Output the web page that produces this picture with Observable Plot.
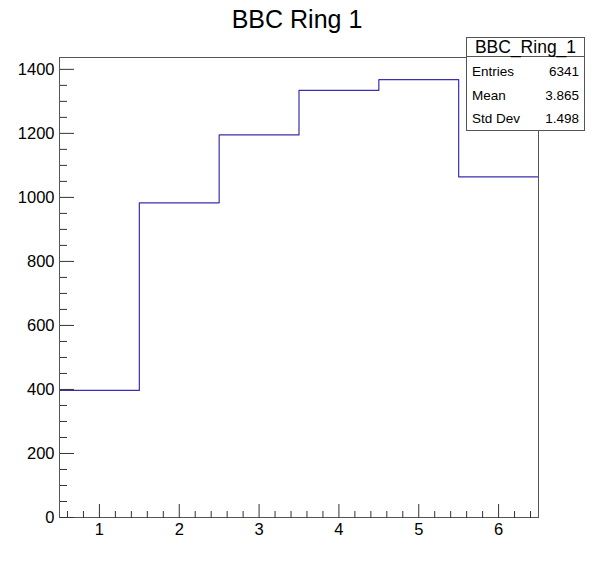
<!DOCTYPE html>
<html><head><meta charset="utf-8">
<script src="https://cdn.jsdelivr.net/npm/d3@7"></script>
<script src="https://cdn.jsdelivr.net/npm/@observablehq/plot@0.6"></script>
<style>
body{margin:0;background:#fff}
svg{font-family:"Liberation Sans",Arial,Helvetica,sans-serif}
</style>
</head><body><div id="chart"></div>
<script>
const chartTitle = "BBC Ring 1";
const statsName = "BBC_Ring_1";
const statsLabels = ["Entries", "Mean", "Std Dev"];
const statsValues = ["6341", "3.865", "1.498"];
const binCenters = [1, 2, 3, 4, 5, 6];
const binCounts = [397, 983, 1195, 1334, 1368, 1064];
const binWidth = 1;
const xDomain = [0.5, 6.5];
const yDomain = [0, 1437];
const xMajor = [1, 2, 3, 4, 5, 6];
const yMajor = [0, 200, 400, 600, 800, 1000, 1200, 1400];
const xMinor = d3.range(3, 33).map(i => i / 5).filter(v => Math.abs(v - Math.round(v)) > 1e-6);
const yMinor = d3.range(0, 29).map(i => i * 50).filter(v => v % 200 !== 0);

// step outline points: each bin's left edge with its count, plus final right edge
const steps = binCenters.map((c, i) => ({x: c - binWidth / 2, y: binCounts[i]}));
steps.push({x: binCenters[binCenters.length - 1] + binWidth / 2, y: binCounts[binCounts.length - 1]});

const W = 598, H = 575;
const plot = Plot.plot({
  width: W, height: H,
  marginLeft: 59, marginRight: 60, marginTop: 57, marginBottom: 58,
  x: {domain: xDomain},
  y: {domain: yDomain},
  style: {fontFamily: '"Liberation Sans",Arial,sans-serif', fontSize: "16.5px", color: "#000", background: "#fff", overflow: "visible"},
  marks: [
    Plot.line(steps, {x: "x", y: "y", curve: "step-after", stroke: "#3a2fb0", strokeWidth: 1.2}),
    Plot.frame({stroke: "#555"}),
    Plot.axisY(yMajor, {anchor: "right", frameAnchor: "left", tickSize: 14, tickFormat: () => "", label: null, stroke: "#333"}),
    Plot.axisY(yMinor, {anchor: "right", frameAnchor: "left", tickSize: 7, tickFormat: () => "", label: null, stroke: "#333"}),
    Plot.axisY(yMajor, {anchor: "left", tickSize: 0, tickPadding: 5, label: null, tickFormat: d => String(d)}),
    Plot.axisX(xMajor, {anchor: "top", frameAnchor: "bottom", tickSize: 14, tickFormat: () => "", label: null, stroke: "#333"}),
    Plot.axisX(xMinor, {anchor: "top", frameAnchor: "bottom", tickSize: 7, tickFormat: () => "", label: null, stroke: "#333"}),
    Plot.axisX(xMajor, {anchor: "bottom", tickSize: 0, tickPadding: 6, label: null, tickFormat: d => String(d)})
  ]
});
document.getElementById("chart").appendChild(plot);

const svg = d3.select(plot);
svg.append("text").attr("x", 297).attr("y", 28).attr("text-anchor", "middle")
  .attr("font-size", 25).attr("fill", "#000").text(chartTitle);

const box = svg.append("g");
const bx = 466, by = 37, bw = 118, bh = 93, headerH = 19;
box.append("rect").attr("x", bx + 0.5).attr("y", by + 0.5).attr("width", bw).attr("height", bh)
  .attr("fill", "#fff").attr("stroke", "#555");
box.append("line").attr("x1", bx).attr("x2", bx + bw).attr("y1", by + headerH + 0.5).attr("y2", by + headerH + 0.5).attr("stroke", "#555");
box.append("text").attr("x", bx + bw / 2 + 0.5).attr("y", by + 15.5).attr("text-anchor", "middle")
  .attr("font-size", 17.5).attr("fill", "#000").text(statsName);
statsLabels.forEach((lab, i) => {
  const yy = 76 + i * 23.5;
  box.append("text").attr("x", bx + 6).attr("y", yy).attr("text-anchor", "start").attr("font-size", 13.5).attr("fill", "#000").text(lab);
  box.append("text").attr("x", bx + bw - 5).attr("y", yy).attr("text-anchor", "end").attr("font-size", 13.5).attr("fill", "#000").text(statsValues[i]);
});
</script>
</body></html>
